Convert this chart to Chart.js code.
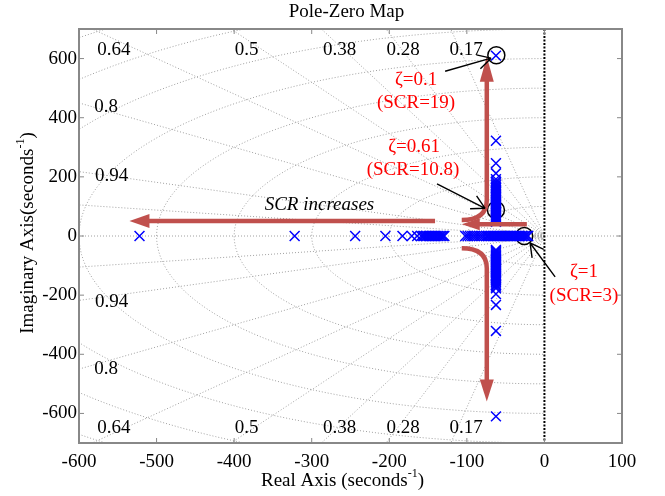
<!DOCTYPE html>
<html>
<head>
<meta charset="utf-8">
<title>Pole-Zero Map</title>
<script src="https://cdn.jsdelivr.net/npm/chart.js@4.4.1/dist/chart.umd.min.js"></script>
<style>
    html, body { margin: 0; padding: 0; background: #fff; }
    .chart-box { position: relative; width: 665px; height: 496px; }
</style>
</head>
<body>
<div class="chart-box"><canvas id="pzChart"></canvas></div>
<script>
// Tick labels
const xTickValues = [-600, -500, -400, -300, -200, -100, 0, 100];
const yTickValues = [-600, -400, -200, 0, 200, 400, 600];

// Poles (seconds^-1)
const realAxisPoles = [-522, -322, -244, -205, -183, -171, -164, -159,
    -157, -155, -153, -151, -149, -147, -145, -143, -141, -139, -137, -135, -133, -131, -129,
    -102, -99, -96, -93, -90, -87, -84, -81, -78, -75, -73, -71, -69, -67, -65, -63, -61,
    -59, -57, -55, -53, -51, -49, -47, -45, -43, -41, -39, -37, -35, -33, -31, -29, -27,
    -25, -23, -21];
const branchReal = -62.5;
const upperBranchImag = [610, 322, 246, 212, 192, 184, 178, 172, 167, 162, 157, 152, 148,
    144, 140, 136, 132, 128, 124, 120, 116, 112, 108, 104, 100, 96, 92, 88, 84, 80, 76, 72,
    68, 64, 60, 56, 52, 48];
const lowerBranchImag = [-47, -51, -55, -59, -63, -67, -71, -75, -79, -83, -87, -91, -95,
    -99, -103, -107, -111, -115, -119, -123, -127, -131, -135, -139, -143, -147, -151, -156,
    -161, -166, -171, -177, -196, -233, -321, -610];

// Circled poles: zeta=0.1, zeta=0.61, zeta=1
const markedReal = [-62, -62.5, -26];
const markedImag = [611, 88, 0];

// sgrid: damping rays and natural frequency arcs
const dampingRatios = [0.17, 0.28, 0.38, 0.5, 0.64, 0.8, 0.94, 0.985];
const naturalFreqs = [4, 8, 12, 100, 200, 300, 400, 500, 600, 700, 800, 900];

const SERIF = '"Liberation Serif", "Times New Roman", serif';
const RED_ARROW = '#c0504d';

// where things sit, in data units
const layout = {
    gridLabels: [
        { text: '0.64', x: -555, y: 630 }, { text: '0.5', x: -384, y: 630 },
        { text: '0.38', x: -264, y: 630 }, { text: '0.28', x: -182, y: 630 },
        { text: '0.17', x: -101, y: 630 }, { text: '0.8', x: -565, y: 436 },
        { text: '0.94', x: -558, y: 203 }, { text: '0.94', x: -558, y: -223 },
        { text: '0.8', x: -565, y: -450 }, { text: '0.64', x: -555, y: -648 },
        { text: '0.5', x: -384, y: -648 }, { text: '0.38', x: -264, y: -648 },
        { text: '0.28', x: -182, y: -648 }, { text: '0.17', x: -101, y: -648 }
    ],
    redArrows: [
        { start: [-141, 50.7], tip: [-535, 50.7], head: [20, 7] },
        { start: [-22.7, 39.5], tip: [-106.6, 39.5], head: [18, 6] },
        { start: [-106.6, 54], ctrl: [-74.3, 54], bend: [-74.3, 121.6], tip: [-74.3, 606], head: [25, 7] },
        { start: [-106.6, -41.6], ctrl: [-74.3, -41.6], bend: [-74.3, -109], tip: [-74.3, -560], head: [22, 7] }
    ],
    pointers: [
        { from: [-128, 557], to: [-68.8, 601.4] },
        { from: [-138.5, 176], to: [-76.5, 93.6] },
        { from: [13.8, -138.5], to: [-18.5, -23.6] }
    ],
    notes: [
        { text: '\u03b6=0.1', x: -165.5, y: 527 },
        { text: '(SCR=19)', x: -165.5, y: 450 },
        { text: '\u03b6=0.61', x: -168, y: 301 },
        { text: '(SCR=10.8)', x: -169.5, y: 223 },
        { text: '\u03b6=1', x: 51, y: -122 },
        { text: '(SCR=3)', x: 51, y: -203 }
    ],
    trend: { text: 'SCR increases', x: -290, y: 105 }
};

function px(chart, x, y) {
    return [chart.scales.x.getPixelForValue(x), chart.scales.y.getPixelForValue(y)];
}

// dotted sgrid, clipped to the plot box
function drawGrid(chart) {
    const ctx = chart.ctx;
    const area = chart.chartArea;
    const [ox, oy] = px(chart, 0, 0);

    ctx.save();
    ctx.beginPath();
    ctx.rect(area.left, area.top, area.right - area.left, area.bottom - area.top);
    ctx.clip();
    ctx.strokeStyle = '#a0a0a0';
    ctx.lineWidth = 1;
    ctx.setLineDash([1, 2]);

    naturalFreqs.forEach(wn => {
        ctx.beginPath();
        for (let a = 90; a <= 270; a += 2) {
            const rad = a * Math.PI / 180;
            const [x, y] = px(chart, wn * Math.cos(rad), wn * Math.sin(rad));
            if (a === 90) ctx.moveTo(x, y); else ctx.lineTo(x, y);
        }
        ctx.stroke();
    });

    dampingRatios.forEach(z => {
        const w = Math.sqrt(1 - z * z);
        [1, -1].forEach(s => {
            const [x, y] = px(chart, -z * 3000, s * w * 3000);
            ctx.beginPath();
            ctx.moveTo(ox, oy);
            ctx.lineTo(x, y);
            ctx.stroke();
        });
    });

    ctx.beginPath();
    ctx.moveTo(area.left, oy);
    ctx.lineTo(area.right, oy);
    ctx.stroke();

    // imaginary axis
    ctx.strokeStyle = '#000';
    ctx.lineWidth = 2;
    ctx.setLineDash([2, 1.5]);
    ctx.beginPath();
    ctx.moveTo(ox, area.top);
    ctx.lineTo(ox, area.bottom);
    ctx.stroke();
    ctx.restore();

    ctx.save();
    ctx.fillStyle = '#000';
    ctx.font = `19px ${SERIF}`;
    ctx.textAlign = 'center';
    ctx.textBaseline = 'middle';
    layout.gridLabels.forEach(l => {
        const [x, y] = px(chart, l.x, l.y);
        ctx.fillText(l.text, x, y);
    });
    ctx.restore();
}

function drawRedArrows(chart) {
    const ctx = chart.ctx;
    ctx.save();
    ctx.strokeStyle = RED_ARROW;
    ctx.fillStyle = RED_ARROW;
    ctx.lineWidth = 4.5;
    layout.redArrows.forEach(a => {
        const start = px(chart, a.start[0], a.start[1]);
        const tip = px(chart, a.tip[0], a.tip[1]);
        const last = a.bend ? px(chart, a.bend[0], a.bend[1]) : start;
        const dx = tip[0] - last[0], dy = tip[1] - last[1];
        const len = Math.hypot(dx, dy);
        const ux = dx / len, uy = dy / len;
        const bx = tip[0] - ux * a.head[0], by = tip[1] - uy * a.head[0];

        ctx.beginPath();
        ctx.moveTo(start[0], start[1]);
        if (a.ctrl) {
            const c = px(chart, a.ctrl[0], a.ctrl[1]);
            ctx.quadraticCurveTo(c[0], c[1], last[0], last[1]);
        }
        ctx.lineTo(bx + ux, by + uy);
        ctx.stroke();

        ctx.beginPath();
        ctx.moveTo(tip[0], tip[1]);
        ctx.lineTo(bx - uy * a.head[1], by + ux * a.head[1]);
        ctx.lineTo(bx + uy * a.head[1], by - ux * a.head[1]);
        ctx.closePath();
        ctx.fill();
    });
    ctx.restore();
}

function drawPointers(chart) {
    const ctx = chart.ctx;
    ctx.save();
    ctx.strokeStyle = '#000';
    ctx.lineWidth = 1.4;
    layout.pointers.forEach(p => {
        const a = px(chart, p.from[0], p.from[1]);
        const b = px(chart, p.to[0], p.to[1]);
        const ang = Math.atan2(a[1] - b[1], a[0] - b[0]);
        ctx.beginPath();
        ctx.moveTo(a[0], a[1]);
        ctx.lineTo(b[0], b[1]);
        [0.5, -0.5].forEach(d => {
            ctx.moveTo(b[0], b[1]);
            ctx.lineTo(b[0] + 15 * Math.cos(ang + d), b[1] + 15 * Math.sin(ang + d));
        });
        ctx.stroke();
    });
    ctx.restore();
}

function drawNotes(chart) {
    const ctx = chart.ctx;
    ctx.save();
    ctx.textAlign = 'center';
    ctx.textBaseline = 'middle';
    ctx.fillStyle = '#ff0000';
    ctx.font = `19px ${SERIF}`;
    layout.notes.forEach(n => {
        const [x, y] = px(chart, n.x, n.y);
        ctx.fillText(n.text, x, y);
    });
    const t = layout.trend;
    const [tx, ty] = px(chart, t.x, t.y);
    ctx.fillStyle = '#000';
    ctx.font = `italic 19px ${SERIF}`;
    ctx.fillText(t.text, tx, ty);
    ctx.restore();
}

// grey box with inward ticks on all four sides
function drawFrame(chart) {
    const ctx = chart.ctx;
    const area = chart.chartArea;
    const tick = 5;
    ctx.save();
    ctx.strokeStyle = '#888';
    ctx.lineWidth = 1;
    ctx.beginPath();
    xTickValues.forEach(v => {
        const x = chart.scales.x.getPixelForValue(v);
        ctx.moveTo(x, area.bottom); ctx.lineTo(x, area.bottom - tick);
        ctx.moveTo(x, area.top); ctx.lineTo(x, area.top + tick);
    });
    yTickValues.forEach(v => {
        const y = chart.scales.y.getPixelForValue(v);
        ctx.moveTo(area.left, y); ctx.lineTo(area.left + tick, y);
        ctx.moveTo(area.right, y); ctx.lineTo(area.right - tick, y);
    });
    ctx.stroke();
    ctx.lineWidth = 2;
    ctx.strokeRect(area.left, area.top, area.right - area.left, area.bottom - area.top);
    ctx.restore();
}

// label with a "-1" superscript, centred on (cx, cy)
function drawSupLabel(ctx, main, cx, cy) {
    ctx.font = `19px ${SERIF}`;
    const w1 = ctx.measureText(main).width;
    const w3 = ctx.measureText(')').width;
    ctx.font = `12px ${SERIF}`;
    const w2 = ctx.measureText('-1').width;
    let x = cx - (w1 + w2 + w3) / 2;
    ctx.textAlign = 'left';
    ctx.textBaseline = 'middle';
    ctx.font = `19px ${SERIF}`;
    ctx.fillText(main, x, cy);
    x += w1;
    ctx.font = `12px ${SERIF}`;
    ctx.fillText('-1', x, cy - 7);
    x += w2;
    ctx.font = `19px ${SERIF}`;
    ctx.fillText(')', x, cy);
}

function drawTitles(chart) {
    const ctx = chart.ctx;
    const area = chart.chartArea;
    const cx = (area.left + area.right) / 2 - 4;
    ctx.save();
    ctx.fillStyle = '#000';
    ctx.font = `19px ${SERIF}`;
    ctx.textAlign = 'center';
    ctx.textBaseline = 'middle';
    ctx.fillText('Pole-Zero Map', cx, 12);
    drawSupLabel(ctx, 'Real Axis (seconds', cx - 4, 481);
    ctx.translate(28, (area.top + area.bottom) / 2 - 3);
    ctx.rotate(-Math.PI / 2);
    drawSupLabel(ctx, 'Imaginary Axis(seconds', 0, 0);
    ctx.restore();
}

const poleZeroPlugin = {
    id: 'poleZero',
    beforeDatasetsDraw(chart) { drawGrid(chart); },
    afterDatasetsDraw(chart) {
        drawRedArrows(chart);
        drawPointers(chart);
        drawNotes(chart);
    },
    afterDraw(chart) {
        drawFrame(chart);
        drawTitles(chart);
    }
};

document.addEventListener('DOMContentLoaded', function() {
    const polePoints = [
        ...realAxisPoles.map(x => ({ x: x, y: 0 })),
        ...upperBranchImag.map(y => ({ x: branchReal, y: y })),
        ...lowerBranchImag.map(y => ({ x: branchReal, y: y }))
    ];
    const markedPoints = markedReal.map((x, i) => ({ x: x, y: markedImag[i] }));

    const tickFont = { family: SERIF, size: 19 };

    new Chart(document.getElementById('pzChart'), {
        type: 'scatter',
        data: {
            datasets: [{
                label: 'Poles',
                data: polePoints,
                pointStyle: 'crossRot',
                pointRadius: 7,
                pointBorderColor: '#0000ff',
                pointBorderWidth: 1.5,
                pointBackgroundColor: 'transparent'
            }, {
                label: 'Selected poles',
                data: markedPoints,
                pointStyle: 'circle',
                pointRadius: 8.5,
                pointBorderColor: '#000',
                pointBorderWidth: 1.5,
                pointBackgroundColor: 'transparent'
            }]
        },
        options: {
            responsive: true,
            maintainAspectRatio: false,
            animation: false,
            events: [],
            layout: { padding: { top: 29, right: 43, bottom: 0, left: 0 } },
            plugins: {
                legend: { display: false },
                tooltip: { enabled: false },
                title: { display: false }
            },
            scales: {
                x: {
                    type: 'linear',
                    min: -600,
                    max: 100,
                    afterBuildTicks: scale => { scale.ticks = xTickValues.map(v => ({ value: v })); },
                    afterFit: scale => { scale.height = 53; },
                    ticks: { font: tickFont, color: '#000', padding: 8, maxRotation: 0, autoSkip: false, callback: v => String(v) },
                    grid: { display: false, drawTicks: false },
                    border: { display: false }
                },
                y: {
                    type: 'linear',
                    min: -700,
                    max: 700,
                    afterBuildTicks: scale => { scale.ticks = yTickValues.map(v => ({ value: v })); },
                    afterFit: scale => { scale.width = 79; },
                    ticks: { font: tickFont, color: '#000', padding: 2, autoSkip: false, callback: v => String(v) },
                    grid: { display: false, drawTicks: false },
                    border: { display: false }
                }
            }
        },
        plugins: [poleZeroPlugin]
    });
});
</script>
</body>
</html>
